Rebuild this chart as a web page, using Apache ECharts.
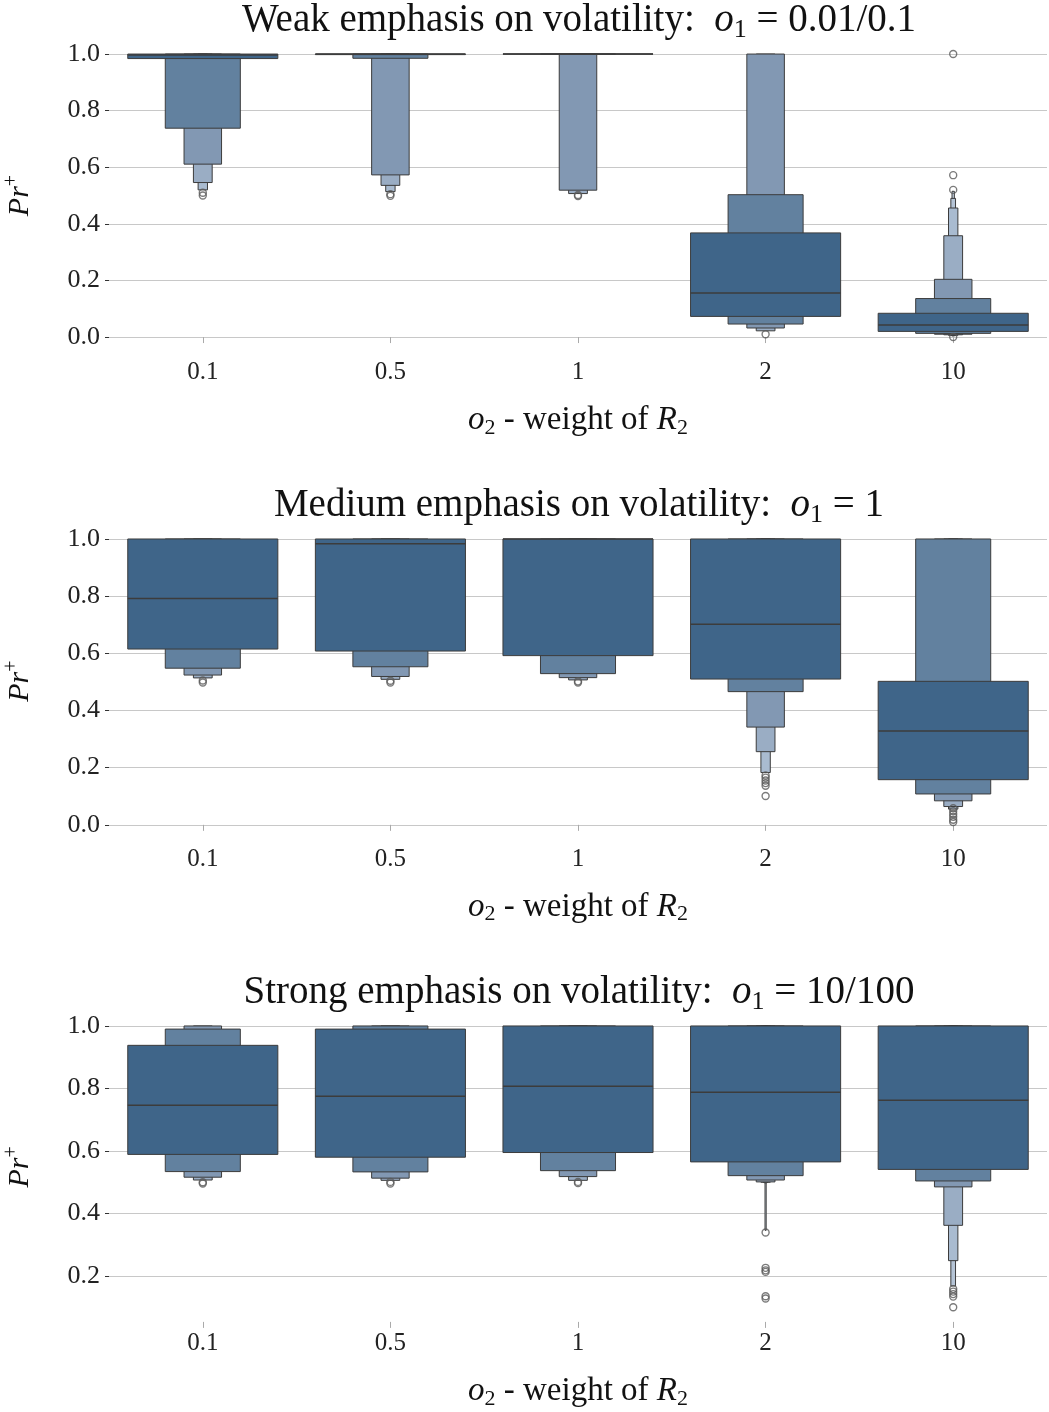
<!DOCTYPE html>
<html>
<head>
<meta charset="utf-8">
<script src="https://cdn.jsdelivr.net/npm/echarts@6/dist/echarts.min.js"></script>
<style>
  html, body { margin: 0; padding: 0; background: #ffffff; }
  #chart { width: 1049px; height: 1412px; }
</style>
</head>
<body>
<div id="chart"></div>
<script>
// o2 values on the horizontal axis
const categories = ['0.1', '0.5', '1', '2', '10'];
const yTicksFull = [0, 0.2, 0.4, 0.6, 0.8, 1.0];
const yTicksStrong = [0.2, 0.4, 0.6, 0.8, 1.0];

// Letter-value boxes: [category index, depth (0 = quartile box), lower, upper]
const weakBoxes = [
  [0, 0, 0.984, 1.0], [0, 1, 0.738, 1.0], [0, 2, 0.611, 1.0], [0, 3, 0.546, 1.0], [0, 4, 0.520, 1.0],
  [1, 0, 0.998, 1.0], [1, 1, 0.985, 1.0], [1, 2, 0.573, 1.0], [1, 3, 0.536, 1.0], [1, 4, 0.514, 1.0],
  [2, 0, 1.0, 1.0], [2, 1, 1.0, 1.0], [2, 2, 0.519, 1.0], [2, 3, 0.507, 1.0],
  [3, 0, 0.073, 0.368], [3, 1, 0.046, 0.503], [3, 2, 0.032, 1.0], [3, 3, 0.022, 1.0],
  [4, 0, 0.020, 0.084], [4, 1, 0.013, 0.136], [4, 2, 0.010, 0.204], [4, 3, 0.008, 0.358],
  [4, 4, 0.006, 0.456], [4, 5, 0.005, 0.490], [4, 6, 0.004, 0.515]
];
const weakMedians = [0.997, 1.0, 1.0, 0.156, 0.043];
const weakOutliers = [
  [0, 0.510], [0, 0.500], [1, 0.505], [1, 0.499], [2, 0.502], [2, 0.498],
  [3, 0.010], [4, 0.520], [4, 0.572], [4, 1.0], [4, 0.0]
];

const mediumBoxes = [
  [0, 0, 0.615, 1.0], [0, 1, 0.548, 1.0], [0, 2, 0.524, 1.0], [0, 3, 0.514, 1.0],
  [1, 0, 0.608, 1.0], [1, 1, 0.553, 1.0], [1, 2, 0.519, 1.0], [1, 3, 0.509, 1.0],
  [2, 0, 0.592, 1.0], [2, 1, 0.529, 1.0], [2, 2, 0.515, 1.0], [2, 3, 0.507, 1.0],
  [3, 0, 0.510, 1.0], [3, 1, 0.466, 1.0], [3, 2, 0.342, 1.0], [3, 3, 0.256, 1.0], [3, 4, 0.183, 1.0],
  [4, 0, 0.158, 0.502], [4, 1, 0.108, 1.0], [4, 2, 0.084, 1.0], [4, 3, 0.064, 1.0], [4, 4, 0.055, 1.0]
];
const mediumMedians = [0.792, 0.983, 1.0, 0.702, 0.328];
const mediumOutliers = [
  [0, 0.505], [0, 0.498], [1, 0.504], [1, 0.498], [2, 0.502], [2, 0.498],
  [3, 0.173], [3, 0.165], [3, 0.155], [3, 0.146], [3, 0.137], [3, 0.101],
  [4, 0.058], [4, 0.048], [4, 0.038], [4, 0.028], [4, 0.018], [4, 0.010]
];

const strongBoxes = [
  [0, 0, 0.589, 0.938], [0, 1, 0.534, 0.990], [0, 2, 0.516, 1.0], [0, 3, 0.507, 1.0],
  [1, 0, 0.580, 0.990], [1, 1, 0.533, 1.0], [1, 2, 0.513, 1.0], [1, 3, 0.506, 1.0],
  [2, 0, 0.595, 1.0], [2, 1, 0.537, 1.0], [2, 2, 0.518, 1.0], [2, 3, 0.506, 1.0],
  [3, 0, 0.565, 1.0], [3, 1, 0.521, 1.0], [3, 2, 0.507, 1.0], [3, 3, 0.501, 1.0],
  [3, 4, 0.500, 1.0], [3, 5, 0.499, 1.0], [3, 6, 0.498, 1.0], [3, 7, 0.346, 1.0],
  [4, 0, 0.541, 1.0], [4, 1, 0.504, 1.0], [4, 2, 0.485, 1.0], [4, 3, 0.362, 1.0],
  [4, 4, 0.249, 1.0], [4, 5, 0.168, 1.0]
];
const strongMedians = [0.746, 0.775, 0.807, 0.788, 0.762];
const strongOutliers = [
  [0, 0.500], [0, 0.496], [1, 0.501], [1, 0.496], [2, 0.501], [2, 0.497],
  [3, 0.339], [3, 0.226], [3, 0.218], [3, 0.213], [3, 0.135], [3, 0.128],
  [4, 0.158], [4, 0.150], [4, 0.142], [4, 0.134], [4, 0.100]
];

// shades from the quartile box outwards
const levelColors = ['#3f6589', '#62819f', '#8298b3', '#9aadc4', '#a9bbd0', '#b5c4d6', '#c0cddc', '#cad5e2'];
const edgeColor = '#3c3c3c';
const serif = '"Liberation Serif", "DejaVu Serif", serif';

const panels = [
  { title: '{t|Weak emphasis on volatility:  }{m|o}{s|1}{t| = 0.01/0.1}',
    boxes: weakBoxes, medians: weakMedians, outliers: weakOutliers,
    ticks: yTicksFull, min: -0.05, max: 1.05, top: 39.9, height: 311.3 },
  { title: '{t|Medium emphasis on volatility:  }{m|o}{s|1}{t| = 1}',
    boxes: mediumBoxes, medians: mediumMedians, outliers: mediumOutliers,
    ticks: yTicksFull, min: -0.045, max: 1.05, top: 524.7, height: 313.0 },
  { title: '{t|Strong emphasis on volatility:  }{m|o}{s|1}{t| = 10/100}',
    boxes: strongBoxes, medians: strongMedians, outliers: strongOutliers,
    ticks: yTicksStrong, min: 0.053, max: 1.045, top: 1011.9, height: 310.0 }
];

const titleRich = {
  t: { fontFamily: serif, fontSize: 39, fontWeight: 'normal', color: '#111' },
  m: { fontFamily: serif, fontSize: 39, fontWeight: 'normal', fontStyle: 'italic', color: '#111' },
  s: { fontFamily: serif, fontSize: 26, fontWeight: 'normal', color: '#111', padding: [18, 0, 0, 0] }
};
const xNameRich = {
  t: { fontFamily: serif, fontSize: 33, color: '#111' },
  m: { fontFamily: serif, fontSize: 33, fontStyle: 'italic', color: '#111' },
  s: { fontFamily: serif, fontSize: 22, color: '#111', padding: [15, 0, 0, 0] }
};
const yNameRich = {
  m: { fontFamily: serif, fontSize: 30, fontStyle: 'italic', color: '#111' },
  p: { fontFamily: serif, fontSize: 20, color: '#111', padding: [0, 0, 17, 0] }
};

function renderBox(params, api) {
  const ci = api.value(0);
  const depth = api.value(1);
  const upper = api.coord([ci, api.value(3)]);
  const lower = api.coord([ci, api.value(2)]);
  const band = api.size([1, 0])[0];
  const w = band * 0.8 * Math.pow(0.5, depth);
  return {
    type: 'rect',
    shape: { x: upper[0] - w / 2, y: upper[1], width: w, height: Math.max(lower[1] - upper[1], 0) },
    style: { fill: levelColors[depth], stroke: edgeColor, lineWidth: 1 }
  };
}

function renderMedian(params, api) {
  const ci = api.value(0);
  const p = api.coord([ci, api.value(1)]);
  const band = api.size([1, 0])[0];
  const w = band * 0.8;
  return {
    type: 'line',
    shape: { x1: p[0] - w / 2, y1: p[1], x2: p[0] + w / 2, y2: p[1] },
    style: { stroke: edgeColor, lineWidth: 1.5 }
  };
}

const option = {
  animation: false,
  backgroundColor: '#ffffff',
  title: [], grid: [], xAxis: [], yAxis: [], series: []
};

panels.forEach((pn, i) => {
  option.grid.push({
    left: 109, width: 938, top: pn.top, height: pn.height,
    containLabel: false, outerBoundsMode: 'none'
  });
  option.title.push({
    text: pn.title, left: 574, top: pn.top - 46, textAlign: 'center',
    textStyle: { fontWeight: 'normal', rich: titleRich }
  });
  option.xAxis.push({
    type: 'category', gridIndex: i, data: categories, boundaryGap: true,
    axisLine: { show: false },
    axisTick: { show: true, alignWithLabel: true, length: 6, lineStyle: { color: '#aaaaaa', width: 1 } },
    axisLabel: { fontFamily: serif, fontSize: 25, color: '#222', margin: 9 },
    splitLine: { show: false },
    name: '{m|o}{s|2}{t| - weight of }{m|R}{s|2}',
    nameLocation: 'middle', nameGap: 51,
    nameTextStyle: { rich: xNameRich }
  });
  option.yAxis.push({
    type: 'value', gridIndex: i, min: pn.min, max: pn.max,
    axisLine: { show: false },
    axisTick: { show: true, length: 4, lineStyle: { color: '#333', width: 1 }, customValues: pn.ticks },
    axisLabel: { fontFamily: serif, fontSize: 26, color: '#222', margin: 9,
      customValues: pn.ticks, formatter: v => v.toFixed(1) },
    splitLine: { show: true, lineStyle: { color: '#c8c8c8', width: 1 } },
    name: '{m|Pr}{p|+}', nameLocation: 'middle', nameRotate: 90, nameGap: 70,
    nameTextStyle: { rich: yNameRich }
  });
  const sorted = pn.boxes.slice().sort((a, b) => b[1] - a[1]);
  option.series.push({
    type: 'custom', xAxisIndex: i, yAxisIndex: i, renderItem: renderBox,
    data: sorted, encode: { x: 0, y: [2, 3] }, z: 2
  });
  option.series.push({
    type: 'custom', xAxisIndex: i, yAxisIndex: i, renderItem: renderMedian,
    data: pn.medians.map((m, ci) => [ci, m]), encode: { x: 0, y: 1 }, z: 3
  });
  option.series.push({
    type: 'scatter', xAxisIndex: i, yAxisIndex: i, data: pn.outliers,
    symbol: 'circle', symbolSize: 7,
    itemStyle: { color: 'rgba(0,0,0,0)', borderColor: '#5a5a5a', borderWidth: 1.4 },
    z: 4
  });
});

const chart = echarts.init(document.getElementById('chart'), null, { renderer: 'canvas' });
chart.setOption(option);
</script>
</body>
</html>
